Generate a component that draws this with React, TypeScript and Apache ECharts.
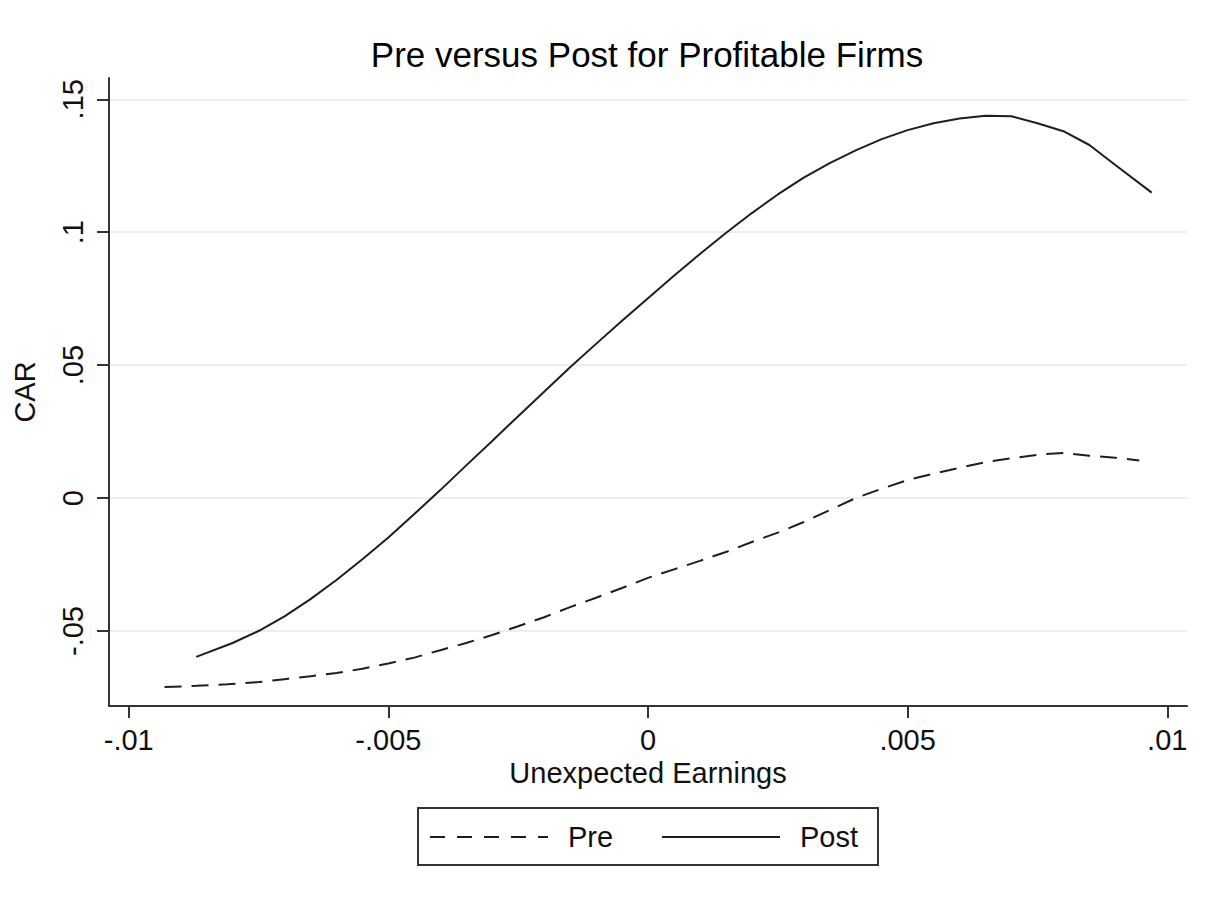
import React, { useEffect, useRef } from "react";
import * as echarts from "echarts";

const titleText = "Pre versus Post for Profitable Firms";
const xAxisName = "Unexpected Earnings";
const yAxisName = "CAR";

const xTickValues = [-0.01, -0.005, 0, 0.005, 0.01];
const xTickLabels = ["-.01", "-.005", "0", ".005", ".01"];
const yTickValues = [-0.05, 0, 0.05, 0.1, 0.15];
const yTickLabels = ["-.05", "0", ".05", ".1", ".15"];

const seriesNames = ["Pre", "Post"];

const preX = [
  -0.00931, -0.0087, -0.0081, -0.0075, -0.007, -0.0065, -0.006, -0.0055, -0.005, -0.0045,
  -0.004, -0.0035, -0.003, -0.0025, -0.002, -0.0015, -0.001, -0.0005, 0, 0.0005, 0.001,
  0.0015, 0.002, 0.0025, 0.003, 0.0035, 0.004, 0.0045, 0.005, 0.0055, 0.006, 0.0065,
  0.007, 0.0075, 0.008, 0.0085, 0.009, 0.00946,
];
const preY = [
  -0.0711, -0.0706, -0.07, -0.0692, -0.0681, -0.067, -0.0658, -0.0642, -0.0622, -0.06,
  -0.0572, -0.0545, -0.0515, -0.0482, -0.0448, -0.041, -0.0375, -0.0338, -0.03, -0.0268,
  -0.0236, -0.0203, -0.0165, -0.013, -0.009, -0.0045, 0.0, 0.0035, 0.0068, 0.0092, 0.0114,
  0.0135, 0.015, 0.0163, 0.017, 0.0159, 0.0152, 0.0141,
];

const postX = [
  -0.0087, -0.008, -0.0075, -0.007, -0.0065, -0.006, -0.0055, -0.005, -0.0045, -0.004,
  -0.0035, -0.003, -0.0025, -0.002, -0.0015, -0.001, -0.0005, 0, 0.0005, 0.001, 0.0015,
  0.002, 0.0025, 0.003, 0.0035, 0.004, 0.0045, 0.005, 0.0055, 0.006, 0.0065, 0.007,
  0.0075, 0.008, 0.0085, 0.009, 0.0097,
];
const postY = [
  -0.0597, -0.0545, -0.05, -0.0445, -0.038, -0.0308, -0.023, -0.0148, -0.006, 0.003,
  0.0123, 0.0215, 0.0308, 0.04, 0.0492, 0.058, 0.0667, 0.0752, 0.0836, 0.0918, 0.0997,
  0.1072, 0.1142, 0.1205, 0.126, 0.1308, 0.135, 0.1384, 0.141, 0.1428, 0.1438, 0.1436,
  0.141, 0.138, 0.1328, 0.1253, 0.1149,
];

const FONT = "'Liberation Sans', Arial, sans-serif";
const LINE_COLOR = "#1e1e1e";

function fmt(values: number[], labels: string[]) {
  return (v: number) => {
    const i = values.findIndex((t) => Math.abs(t - v) < 1e-9);
    return i >= 0 ? labels[i] : "";
  };
}

export default function App() {
  const ref = useRef<HTMLDivElement>(null);

  useEffect(() => {
    if (!ref.current) return;
    const chart = echarts.init(ref.current, undefined, { renderer: "svg" });
    const pre = preX.map((x, i) => [x, preY[i]]);
    const post = postX.map((x, i) => [x, postY[i]]);

    chart.setOption({
      animation: false,
      backgroundColor: "#ffffff",
      textStyle: { fontFamily: FONT },
      grid: { left: 109, top: 78, right: 30, bottom: 198, containLabel: false },
      xAxis: {
        type: "value",
        min: -0.01038,
        max: 0.01038,
        name: xAxisName,
        nameLocation: "middle",
        nameGap: 52,
        nameTextStyle: { fontFamily: FONT, fontSize: 29, color: "#111" },
        axisLine: { show: true, onZero: false, lineStyle: { color: "#333", width: 2 } },
        axisTick: {
          show: true,
          length: 12,
          customValues: xTickValues,
          lineStyle: { color: "#333", width: 2 },
        },
        axisLabel: {
          customValues: xTickValues,
          formatter: fmt(xTickValues, xTickLabels),
          fontFamily: FONT,
          fontSize: 29,
          color: "#111",
          margin: 19,
        },
        splitLine: { show: false },
      },
      yAxis: {
        type: "value",
        min: -0.0782,
        max: 0.158,
        name: yAxisName,
        nameLocation: "middle",
        nameGap: 70,
        nameRotate: 90,
        nameTextStyle: { fontFamily: FONT, fontSize: 29, color: "#111" },
        axisLine: { show: true, onZero: false, lineStyle: { color: "#333", width: 2 } },
        axisTick: {
          show: true,
          length: 12,
          customValues: yTickValues,
          lineStyle: { color: "#333", width: 2 },
        },
        axisLabel: {
          customValues: yTickValues,
          formatter: fmt(yTickValues, yTickLabels),
          rotate: 90,
          fontFamily: FONT,
          fontSize: 29,
          color: "#111",
          margin: 22,
        },
        splitLine: { show: true, lineStyle: { color: "#e8e8e8", width: 1.5 } },
      },
      series: [
        {
          name: seriesNames[0],
          type: "line",
          data: pre,
          showSymbol: false,
          symbol: "none",
          smooth: false,
          lineStyle: { color: LINE_COLOR, width: 2, type: [17, 10] },
          z: 3,
        },
        {
          name: seriesNames[1],
          type: "line",
          data: post,
          showSymbol: false,
          symbol: "none",
          smooth: false,
          lineStyle: { color: LINE_COLOR, width: 2, type: "solid" },
          z: 3,
        },
      ],
      graphic: [
        {
          type: "text",
          x: 647,
          y: 54,
          style: {
            text: titleText,
            fontFamily: FONT,
            fontSize: 35,
            fill: "#000",
            textAlign: "center",
            textVerticalAlign: "middle",
          },
        },
        {
          type: "group",
          children: [
            {
              type: "rect",
              shape: { x: 418, y: 808, width: 460, height: 57 },
              style: { fill: "#fff", stroke: "#333", lineWidth: 2 },
            },
            {
              type: "line",
              shape: { x1: 430, y1: 837, x2: 548, y2: 837 },
              style: { stroke: LINE_COLOR, lineWidth: 2, lineDash: [15, 12] },
            },
            {
              type: "text",
              x: 568,
              y: 837,
              style: {
                text: seriesNames[0],
                fontFamily: FONT,
                fontSize: 29,
                fill: "#111",
                textAlign: "left",
                textVerticalAlign: "middle",
              },
            },
            {
              type: "line",
              shape: { x1: 662, y1: 837, x2: 780, y2: 837 },
              style: { stroke: LINE_COLOR, lineWidth: 2 },
            },
            {
              type: "text",
              x: 800,
              y: 837,
              style: {
                text: seriesNames[1],
                fontFamily: FONT,
                fontSize: 29,
                fill: "#111",
                textAlign: "left",
                textVerticalAlign: "middle",
              },
            },
          ],
        },
      ],
    });

    return () => chart.dispose();
  }, []);

  return (
    <div
      ref={ref}
      style={{ position: "fixed", left: 0, top: 0, width: 1217, height: 904, background: "#fff" }}
    />
  );
}
